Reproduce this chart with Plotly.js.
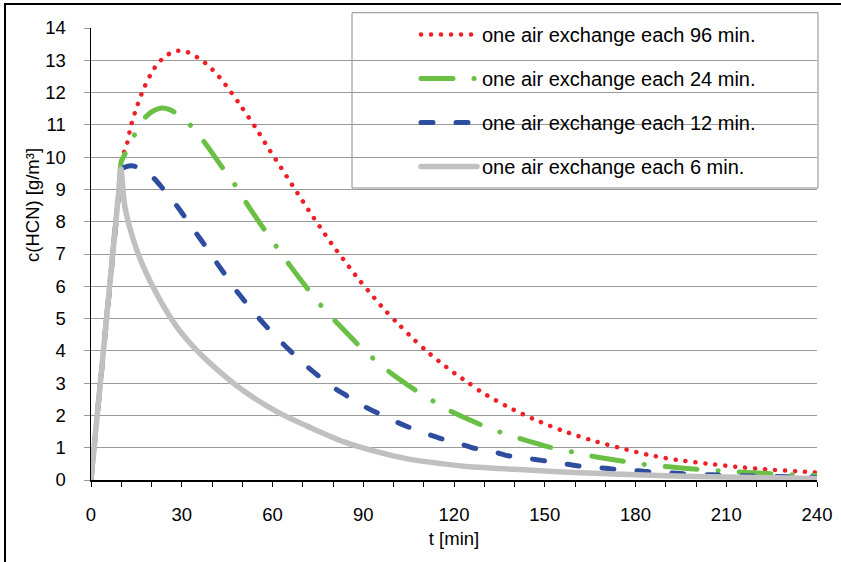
<!DOCTYPE html>
<html>
<head>
<meta charset="utf-8">
<script src="https://cdn.plot.ly/plotly-3.0.1.min.js"></script>
<style>
  html, body { margin: 0; padding: 0; background: #fff; }
  #wrap { position: relative; width: 841px; height: 562px; overflow: hidden; }
  #chart { position: absolute; left: 0; top: 0; width: 841px; height: 562px; }
  .bt { position: absolute; left: 4px; top: 3px; width: 837px; height: 2px; background: #000; }
  .bl { position: absolute; left: 4px; top: 3px; width: 2px; height: 559px; background: #000; }
  .scatterlayer path.js-line, .legend path.js-line { stroke-linecap: round; stroke-linejoin: round; }
</style>
</head>
<body>
<div id="wrap">
  <div id="chart"></div>
  <div class="bt"></div>
  <div class="bl"></div>
</div>
<script>
// ---- data ----
const seriesNames = [
  "one air exchange each 96 min.",
  "one air exchange each 24 min.",
  "one air exchange each 12 min.",
  "one air exchange each 6 min."
];

const t96 = [0, 9.4, 10, 11.8, 13.2, 15.2, 17.5, 20.5, 22.5, 24.8, 27.8, 31.1, 34, 36.8, 41.5, 45.7, 49.5, 55, 58.4, 62.1, 65.6, 69.2, 72.7, 76.5, 80.2, 84.2, 88.2, 92.5, 96.8, 101.3, 106, 110.7, 115.8, 121, 124.5, 129.2, 137.7, 146.5, 155.8, 165.2, 174.6, 184.2, 193.8, 203.5, 213.2, 223.1, 233.1, 240];
const c96 = [0, 9.3, 9.9, 10.38, 10.97, 11.57, 12.14, 12.69, 12.94, 13.14, 13.28, 13.28, 13.15, 12.99, 12.58, 12.09, 11.59, 10.83, 10.31, 9.78, 9.27, 8.75, 8.25, 7.73, 7.23, 6.74, 6.25, 5.77, 5.30, 4.86, 4.42, 4.01, 3.62, 3.25, 3.03, 2.72, 2.27, 1.88, 1.53, 1.24, 1.0, 0.78, 0.62, 0.51, 0.41, 0.33, 0.27, 0.23];

const t24 = [0, 9.4, 10, 12, 15, 18.2, 20.5, 23.4, 26, 28.9, 33.6, 37.7, 44.3, 48.2, 51.5, 58.1, 61.9, 65.8, 72.7, 76.8, 81.2, 89.5, 94.1, 99.2, 108.8, 114.3, 120, 131, 136.9, 142.7, 154.5, 160.3, 166.6, 178.7, 184.8, 190.9, 203.2, 209.3, 215.6, 227.8, 233.8, 240];
const c24 = [0, 9.25, 9.85, 10.23, 10.8, 11.26, 11.43, 11.52, 11.47, 11.31, 10.92, 10.44, 9.56, 9.06, 8.56, 7.65, 7.15, 6.64, 5.79, 5.32, 4.88, 4.08, 3.70, 3.31, 2.69, 2.38, 2.08, 1.63, 1.43, 1.26, 0.95, 0.85, 0.72, 0.54, 0.46, 0.41, 0.31, 0.28, 0.24, 0.18, 0.155, 0.14];

const t12 = [0, 9.4, 10, 11.5, 13.4, 15.4, 20.4, 23.9, 27.8, 31.1, 34.6, 37.7, 41.1, 44.1, 47.8, 50.9, 54.8, 58.3, 62.7, 66.3, 71.1, 75.1, 80.1, 84.5, 89.8, 94.4, 100.2, 104.7, 110.4, 115.4, 121.4, 126.9, 132.8, 138, 144.2, 149.5, 155.6, 160.6, 166.9, 172.1, 178.2, 183.7, 189.8, 194.7, 205, 215, 225, 240];
const c12 = [0, 9.05, 9.62, 9.7, 9.73, 9.69, 9.38, 9.01, 8.56, 8.14, 7.67, 7.26, 6.79, 6.39, 5.89, 5.53, 5.09, 4.72, 4.29, 3.96, 3.54, 3.23, 2.87, 2.61, 2.30, 2.09, 1.83, 1.65, 1.45, 1.29, 1.14, 0.98, 0.88, 0.75, 0.67, 0.60, 0.52, 0.44, 0.39, 0.34, 0.31, 0.26, 0.23, 0.20, 0.16, 0.13, 0.11, 0.08];

const t6 = [0, 9.4, 9.9, 11.2, 14, 17.3, 22.8, 28.3, 33.8, 39.3, 50.3, 61.4, 72.4, 83.4, 94.4, 105.5, 116.5, 125.3, 140, 150, 160, 180, 200, 220, 240];
const c6 = [0, 9.15, 9.63, 8.47, 7.44, 6.61, 5.58, 4.75, 4.13, 3.62, 2.77, 2.12, 1.63, 1.19, 0.88, 0.64, 0.50, 0.41, 0.33, 0.28, 0.23, 0.16, 0.11, 0.08, 0.05];

const xTicks = [0, 30, 60, 90, 120, 150, 180, 210, 240];
const yTicks = [0, 1, 2, 3, 4, 5, 6, 7, 8, 9, 10, 11, 12, 13, 14];

const xTitle = "t [min]";
const yTitle = "c(HCN) [g/m³]";

// ---- styling ----
const FONT = "Liberation Sans, Arial, Helvetica, sans-serif";
const styles = [
  {color: "#ee2026", width: 4.5, dash: "0.1px,9.9px"},
  {color: "#6abf45", width: 5, dash: "32px,21px,0.1px,21px"},
  {color: "#2e4d9e", width: 5, dash: "12px,23px"},
  {color: "#c0c0c0", width: 5.5, dash: "solid"}
];
const xs = [t96, t24, t12, t6];
const ys = [c96, c24, c12, c6];

const traces = xs.map((x, i) => ({
  type: "scatter",
  mode: "lines",
  x: x,
  y: ys[i],
  name: seriesNames[i],
  legendgroup: "g" + i,
  line: {color: styles[i].color, width: styles[i].width, dash: styles[i].dash, shape: "spline", smoothing: 0.8},
  hoverinfo: "skip"
}));

const W = 841, H = 562, L = 91, R = 24, T = 28, B = 82;
const pw = W - L - R, ph = H - T - B;
const px2x = p => (p - L) / pw;
const py2y = p => (H - B - p) / ph;

const layout = {
  width: W, height: H,
  margin: {l: L, r: R, t: T, b: B, pad: 0},
  paper_bgcolor: "#fff",
  plot_bgcolor: "rgba(0,0,0,0)",
  font: {family: FONT, size: 18.5, color: "#000"},
  showlegend: true,
  legend: {
    x: px2x(416), y: py2y(15), xanchor: "left", yanchor: "top",
    bgcolor: "rgba(0,0,0,0)", borderwidth: 0,
    font: {family: FONT, size: 20, color: "#000"},
    itemwidth: 56, tracegroupgap: 15, traceorder: "grouped"
  },
  xaxis: {
    range: [0, 240],
    tickvals: xTicks, ticktext: xTicks.map(String),
    ticks: "outside", ticklen: 5, tickwidth: 1, tickcolor: "#000",
    showline: true, linecolor: "#000", linewidth: 1.5,
    showgrid: false, zeroline: false,
    tickfont: {family: FONT, size: 18.5, color: "#000"},
    ticklabelstandoff: 12,
    minor: {dtick: 10, tick0: 0, ticks: "outside", ticklen: 5, tickwidth: 1, tickcolor: "#000", showgrid: false},
    title: {text: xTitle, font: {family: FONT, size: 18.5, color: "#000"}, standoff: 8},
    fixedrange: true
  },
  yaxis: {
    range: [0, 14],
    tickvals: yTicks, ticktext: yTicks.map(String),
    ticks: "outside", ticklen: 6, tickwidth: 1, tickcolor: "#999",
    showline: true, linecolor: "#000", linewidth: 1.5,
    showgrid: true, gridcolor: "#9a9a9a", gridwidth: 1,
    zeroline: false,
    tickfont: {family: FONT, size: 18.5, color: "#000"},
    ticklabelstandoff: 14,
    fixedrange: true
  },
  shapes: [{
    type: "rect", xref: "paper", yref: "paper", layer: "between",
    x0: px2x(352), x1: px2x(818), y0: py2y(188), y1: py2y(12.7),
    fillcolor: "#fff", line: {color: "#8c8c8c", width: 1}
  }],
  annotations: [{
    text: yTitle, xref: "paper", yref: "paper",
    x: px2x(32), y: py2y(205), xanchor: "center", yanchor: "middle",
    textangle: -90, showarrow: false,
    font: {family: FONT, size: 18.5, color: "#000"}
  }]
};

Plotly.newPlot("chart", traces, layout, {staticPlot: true, displayModeBar: false});
</script>
</body>
</html>
